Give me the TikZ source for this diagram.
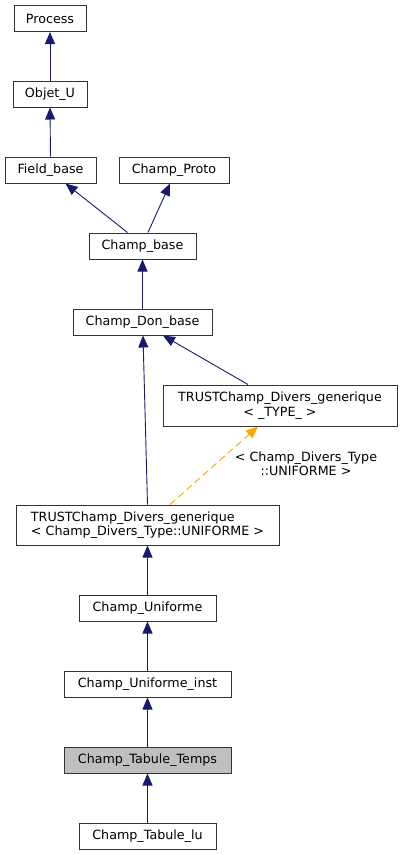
\documentclass[tikz,border=0pt]{standalone}
\usepackage{fontspec}
\setmainfont{DejaVu Sans}
\usetikzlibrary{arrows.meta}
\definecolor{edgeblue}{HTML}{191970}
\definecolor{edgeorange}{HTML}{FFA500}
\definecolor{boxborder}{HTML}{333333}
\definecolor{hilite}{HTML}{BFBFBF}
\begin{document}
\begin{tikzpicture}[x=1pt,y=-1pt,
  every node/.style={font=\fontsize{12.7}{14.5}\selectfont},
  cls/.style={draw=boxborder, line width=1pt, fill=white, inner sep=0pt, minimum height=26pt, align=center},
  cur/.style={cls, fill=hilite},
  edge/.style={draw=edgeblue, line width=0.9pt, -{Triangle[length=12pt,width=10pt]}},
  tedge/.style={draw=edgeorange, line width=0.9pt, dash pattern=on 7pt off 4pt, -{Triangle[length=12pt,width=10pt]}},
  lbl/.style={inner sep=0pt, align=center}]
\useasboundingbox (0,0) rectangle (401,855);
\node[cls, minimum width=72pt] (process) at (50,18.5) {Process};
\node[cls, minimum width=74pt] (objet) at (50,94) {Objet\_U};
\node[cls, minimum width=91pt] (field) at (50.5,170) {Field\_base};
\node[cls, minimum width=110pt] (proto) at (174,170) {Champ\_Proto};
\node[cls, minimum width=107pt] (cbase) at (142.5,246) {Champ\_base};
\node[cls, minimum width=139pt] (cdon) at (142.5,322) {Champ\_Don\_base};
\node[cls, minimum width=234pt, minimum height=41pt] (ttype) at (280,405.5) {TRUSTChamp\_Divers\_generique\\{< \_TYPE\_ >}};
\node[cls, minimum width=263pt, minimum height=40pt, align=left] (tunif) at (147.5,525) {TRUSTChamp\_Divers\_generique\\{< Champ\_Divers\_Type::UNIFORME >}};
\node[cls, minimum width=137pt] (cunif) at (147.5,608) {Champ\_Uniforme};
\node[cls, minimum width=167pt] (cuinst) at (147.5,684) {Champ\_Uniforme\_inst};
\node[cur, minimum width=167pt] (ctemps) at (147.5,760) {Champ\_Tabule\_Temps};
\node[cls, minimum width=137pt] (clu) at (147.5,836) {Champ\_Tabule\_lu};
\node[lbl] (tlabel) at (306,464) {< Champ\_Divers\_Type\\::UNIFORME >};
\draw[edge] (objet.north) -- (process.south);
\draw[edge] (field.north) -- (objet.south);
\draw[edge] ([xshift=-15pt]cbase.north) -- ([xshift=15pt]field.south);
\draw[edge] ([xshift=5.5pt]cbase.north) -- ([xshift=-4pt]proto.south);
\draw[edge] (cdon.north) -- (cbase.south);
\draw[edge] (tunif.north) -- ([xshift=0.5pt]cdon.south);
\draw[edge] ([xshift=-32pt]ttype.north) -- ([xshift=20.5pt]cdon.south);
\draw[tedge] ([xshift=22.5pt]tunif.north) -- ([xshift=-22pt]ttype.south);
\draw[edge] (cunif.north) -- (tunif.south);
\draw[edge] (cuinst.north) -- (cunif.south);
\draw[edge] (ctemps.north) -- (cuinst.south);
\draw[edge] (clu.north) -- (ctemps.south);
\end{tikzpicture}
\end{document}
